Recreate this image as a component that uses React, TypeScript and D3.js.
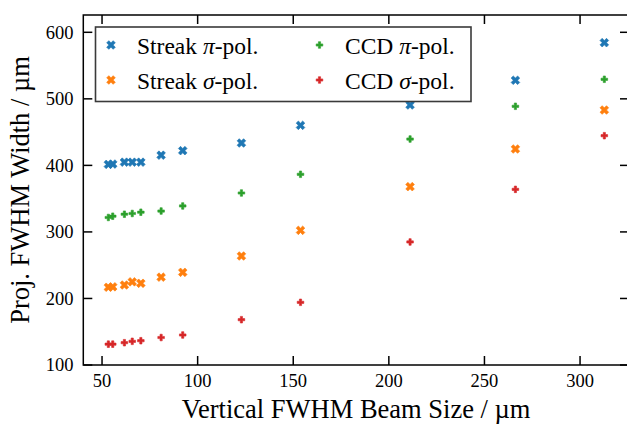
import React from 'react'
import * as d3 from 'd3'

// vertical beam size (µm) and the projected widths
const beamSize = [53.3, 55.6, 61.7, 65.8, 70.3, 80.9, 92.2, 122.9, 153.8, 211.1, 266.2, 312.7]
const streakPi = [401.5, 402, 404.8, 404.8, 404.8, 415.3, 422.1, 433.6, 460.2, 490.7, 527.9, 584.4]
const streakSigma = [216.8, 217.5, 220.2, 225, 222.8, 232, 239.3, 263.8, 302.4, 368, 424.6, 483.2]
const ccdPi = [321.7, 323.6, 326.6, 327.7, 329.6, 331.4, 339, 358.5, 386.6, 439.6, 488.8, 529.4]
const ccdSigma = [131.3, 131.3, 133.5, 135.6, 136.5, 141.3, 145.1, 168.1, 194.2, 284.9, 364, 444.6]

const xTicks = [50, 100, 150, 200, 250, 300]
const yTicks = [100, 200, 300, 400, 500, 600]

const W = 627
const H = 424
const left = 83.3
const right = 629
const top = 15
const bottom = 365

const font = "'Liberation Serif', 'Times New Roman', serif"

// filled plus, arms a third of the half size (like matplotlib 'P')
const plusPoints = (s: number): Array<[number, number]> => {
  const a = s / 3
  return [[-a, -s], [a, -s], [a, -a], [s, -a], [s, a], [a, a], [a, s], [-a, s], [-a, a], [-s, a], [-s, -a], [-a, -a]]
}

const markerPath = (kind: string) => {
  let pts = kind === 'X' ? plusPoints(4.6) : plusPoints(3.3)
  if (kind === 'X') {
    const c = Math.SQRT1_2
    pts = pts.map(([x, y]) => [x * c - y * c, x * c + y * c] as [number, number])
  }
  return d3.line()(pts) + 'Z'
}

const series = [
  { name: 'Streak', pol: 'π', values: streakPi, color: '#1f77b4', marker: 'X' },
  { name: 'Streak', pol: 'σ', values: streakSigma, color: '#ff7f0e', marker: 'X' },
  { name: 'CCD', pol: 'π', values: ccdPi, color: '#2ca02c', marker: 'P' },
  { name: 'CCD', pol: 'σ', values: ccdSigma, color: '#d62728', marker: 'P' },
]

export default function App() {
  const x = d3.scaleLinear().domain([40.2, 325.6]).range([left, right])
  const y = d3.scaleLinear().domain([100, 626]).range([bottom, top])
  const tickLen = 9

  const legendPos = [
    { mx: 111, tx: 137, cy: 45 },
    { mx: 111, tx: 137, cy: 80 },
    { mx: 319.5, tx: 345, cy: 45 },
    { mx: 319.5, tx: 345, cy: 80 },
  ]

  return (
    <svg width={W} height={H} style={{ position: 'absolute', left: 0, top: 0, background: '#fff' }}>
      {/* data */}
      {series.map((s) => (
        <g key={s.name + s.pol} fill={s.color} stroke={s.color} strokeWidth={0.6}>
          {s.values.map((v, i) => (
            <path key={i} d={markerPath(s.marker)} transform={`translate(${x(beamSize[i])},${y(v)})`} />
          ))}
        </g>
      ))}

      {/* frame + ticks */}
      <g stroke="#000" strokeWidth={1.5}>
        <rect x={left} y={top} width={right - left} height={bottom - top} fill="none" />
        {xTicks.map((t) => (
          <g key={t}>
            <line x1={x(t)} x2={x(t)} y1={bottom} y2={bottom - tickLen} />
            <line x1={x(t)} x2={x(t)} y1={top} y2={top + tickLen} />
          </g>
        ))}
        {yTicks.map((t) => (
          <g key={t}>
            <line x1={left} x2={left + tickLen} y1={y(t)} y2={y(t)} />
            <line x1={right} x2={right - tickLen} y1={y(t)} y2={y(t)} />
          </g>
        ))}
      </g>

      <g fontFamily={font} fontSize={18.5} fill="#000">
        {xTicks.map((t) => (
          <text key={t} x={x(t)} y={386.5} textAnchor="middle">{t}</text>
        ))}
        {yTicks.map((t) => (
          <text key={t} x={73.5} y={y(t) + 6.2} textAnchor="end">{t}</text>
        ))}
      </g>

      <text x={(left + right) / 2} y={418} textAnchor="middle" fontFamily={font} fontSize={26.5}>
        Vertical FWHM Beam Size / µm
      </text>
      <text
        transform={`translate(29,${(top + bottom) / 2}) rotate(-90)`}
        textAnchor="middle"
        fontFamily={font}
        fontSize={26.5}
      >
        Proj. FWHM Width / µm
      </text>

      {/* legend */}
      <rect x={95.5} y={27} width={375.5} height={74.5} fill="#fff" stroke="#3a3a3a" strokeWidth={1.6} />
      {series.map((s, i) => (
        <g key={'lg' + i}>
          <path
            d={markerPath(s.marker)}
            transform={`translate(${legendPos[i].mx},${legendPos[i].cy})`}
            fill={s.color}
            stroke={s.color}
            strokeWidth={0.6}
          />
          <text x={legendPos[i].tx} y={legendPos[i].cy + 8.5} fontFamily={font} fontSize={23.5}>
            {s.name} <tspan fontStyle="italic">{s.pol}</tspan>-pol.
          </text>
        </g>
      ))}
    </svg>
  )
}
